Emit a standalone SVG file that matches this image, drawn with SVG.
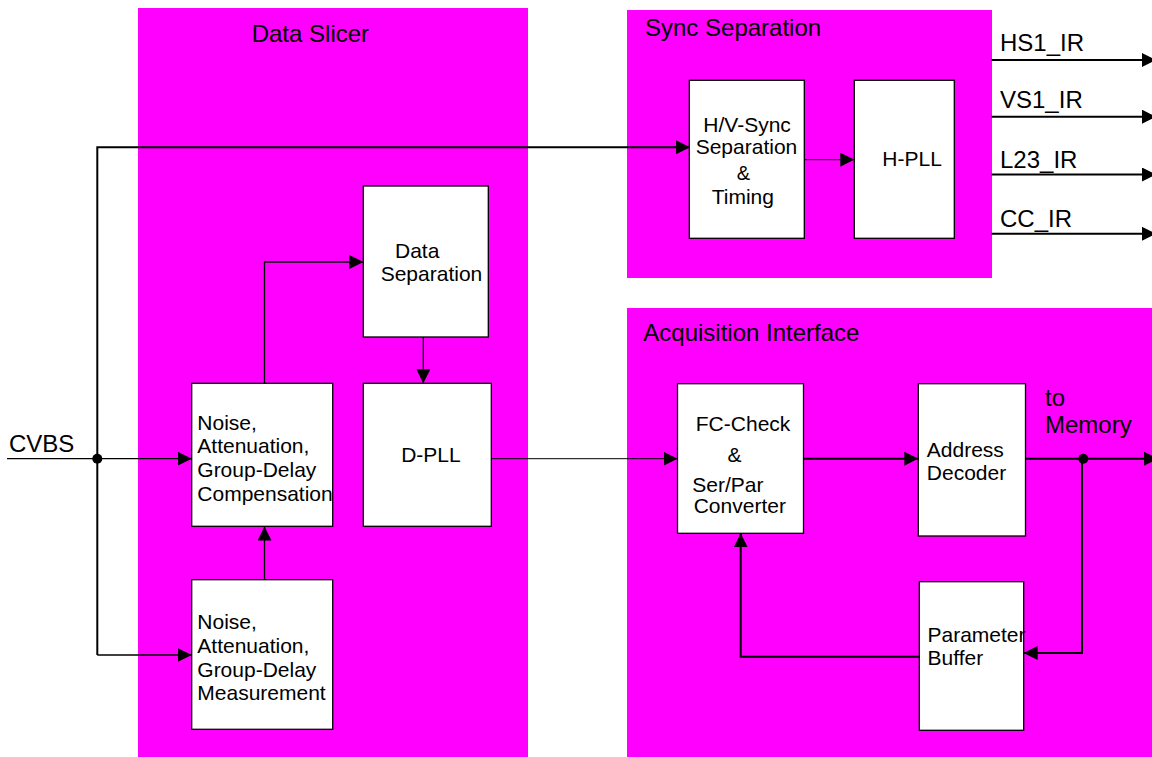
<svg xmlns="http://www.w3.org/2000/svg" width="1152" height="757" viewBox="0 0 1152 757">
<defs>
<style>
.panel{fill:#FF00FF;stroke:none}
.box{fill:#FFFFFF;stroke:#000000;stroke-width:1.3}
.t{font-family:"Liberation Sans",Arial,Helvetica,sans-serif;font-size:21px;fill:#000000}
.lbl{font-family:"Liberation Sans",Arial,Helvetica,sans-serif;font-size:24px;fill:#000000}
.c{fill:none;stroke:#000000;stroke-width:1.3}
.ck{fill:none;stroke:#000000;stroke-width:2}
.cn{fill:none;stroke:#000000;stroke-width:1}
</style>
<marker id="arr" markerWidth="14" markerHeight="14" refX="14" refY="7" orient="auto" markerUnits="userSpaceOnUse">
<path d="M0,0 L14,7 L0,14 Z" fill="#000000"/>
</marker>
</defs>
<rect width="1152" height="757" fill="#FFFFFF"/>

<g id="panel-data-slicer">
<rect class="panel" x="138" y="8" width="390" height="749"/>
<text class="lbl" x="251.7" y="42.3">Data Slicer</text>
</g>
<g id="panel-sync-separation">
<rect class="panel" x="627" y="10" width="365" height="268"/>
<text class="lbl" x="645" y="35.7">Sync Separation</text>
</g>
<g id="panel-acquisition-interface">
<rect class="panel" x="627" y="308" width="525" height="449"/>
<text class="lbl" x="643.3" y="340.7">Acquisition Interface</text>
</g>

<g id="connectors">
<path class="c" d="M7,458.7 H191.7" marker-end="url(#arr)"/>
<path class="ck" d="M97.3,655 V147.3 H690" marker-end="url(#arr)"/>
<path class="c" d="M97.3,655 H191.7" marker-end="url(#arr)"/>
<path class="c" d="M264.5,383.3 V262 H363.3" marker-end="url(#arr)"/>
<path class="c" d="M264.5,579.7 V526.5" marker-end="url(#arr)"/>
<path class="c" d="M423.3,337 V383.3" marker-end="url(#arr)"/>
<path class="cn" d="M491.3,458.7 H677.5" marker-end="url(#arr)"/>
<path class="cn" d="M804.3,159.7 H854.3" marker-end="url(#arr)"/>
<path class="ck" d="M803.5,458.7 H918.3" marker-end="url(#arr)"/>
<path class="ck" d="M1025.5,458.7 H1158" marker-end="url(#arr)"/>
<path class="ck" d="M1082,458.7 V653 H1023.7" marker-end="url(#arr)"/>
<path class="ck" d="M919.3,656.7 H740.7 V533.3" marker-end="url(#arr)"/>
<path class="ck" d="M991.7,60 H1156" marker-end="url(#arr)"/>
<path class="ck" d="M991.7,116.7 H1156" marker-end="url(#arr)"/>
<path class="ck" d="M991.7,174.5 H1156" marker-end="url(#arr)"/>
<path class="ck" d="M991.7,233.8 H1156" marker-end="url(#arr)"/>
<circle cx="97.3" cy="458.7" r="5" fill="#000000"/>
<circle cx="1083.3" cy="458.7" r="5" fill="#000000"/>
</g>

<g id="label-cvbs"><text class="lbl" x="9" y="451.7">CVBS</text></g>
<g id="label-hs1"><text class="lbl" x="1000" y="51">HS1_IR</text></g>
<g id="label-vs1"><text class="lbl" x="1000" y="107.7">VS1_IR</text></g>
<g id="label-l23"><text class="lbl" x="1000" y="167.7">L23_IR</text></g>
<g id="label-cc"><text class="lbl" x="1000" y="226.7">CC_IR</text></g>
<g id="label-memory"><text class="lbl" x="1045" y="405.5">to</text><text class="lbl" x="1045" y="433.3">Memory</text></g>

<g id="node-compensation">
<rect class="box" x="191.7" y="383.3" width="141" height="143"/>
<text class="t" x="197.3" y="430">Noise,</text>
<text class="t" x="197.3" y="453.3">Attenuation,</text>
<text class="t" x="197.3" y="476.7">Group-Delay</text>
<text class="t" x="197.3" y="500.7">Compensation</text>
</g>
<g id="node-measurement">
<rect class="box" x="191.7" y="579.7" width="141" height="149.6"/>
<text class="t" x="197.3" y="629">Noise,</text>
<text class="t" x="197.3" y="653">Attenuation,</text>
<text class="t" x="197.3" y="676.7">Group-Delay</text>
<text class="t" x="197.3" y="700">Measurement</text>
</g>
<g id="node-data-separation">
<rect class="box" x="363.3" y="186" width="125" height="151"/>
<text class="t" x="395" y="258.3">Data</text>
<text class="t" x="380.7" y="281">Separation</text>
</g>
<g id="node-dpll">
<rect class="box" x="363.3" y="383.3" width="128" height="143"/>
<text class="t" x="401.2" y="462">D-PLL</text>
</g>
<g id="node-hv-sync">
<rect class="box" x="689.3" y="80.3" width="115" height="158"/>
<text class="t" x="703.3" y="132.3">H/V-Sync</text>
<text class="t" x="695.7" y="154.3">Separation</text>
<text class="t" x="736.7" y="180" style="font-size:20px">&amp;</text>
<text class="t" x="711.7" y="203.5">Timing</text>
</g>
<g id="node-hpll">
<rect class="box" x="854.3" y="80.3" width="100" height="158"/>
<text class="t" x="882.3" y="165.7">H-PLL</text>
</g>
<g id="node-fc-check">
<rect class="box" x="677.5" y="383.7" width="126" height="149.6"/>
<text class="t" x="695.8" y="430.7">FC-Check</text>
<text class="t" x="727.5" y="461.7">&amp;</text>
<text class="t" x="692.3" y="491.7">Ser/Par</text>
<text class="t" x="693.7" y="513.3">Converter</text>
</g>
<g id="node-address-decoder">
<rect class="box" x="918.3" y="383.7" width="107.2" height="152.3"/>
<text class="t" x="926.8" y="456.7">Address</text>
<text class="t" x="926.8" y="480">Decoder</text>
</g>
<g id="node-parameter-buffer">
<rect class="box" x="919.3" y="581.7" width="104.4" height="148.6"/>
<text class="t" x="927.5" y="641.7">Parameter</text>
<text class="t" x="927.5" y="665">Buffer</text>
</g>
</svg>
